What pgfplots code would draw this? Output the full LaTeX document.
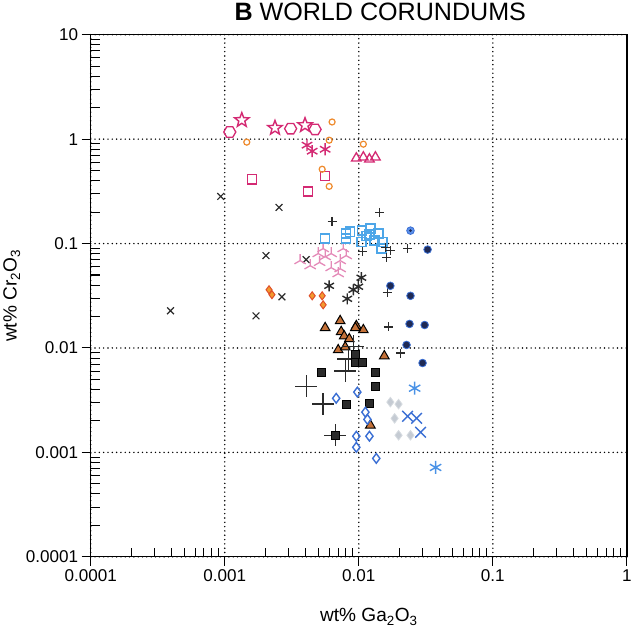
\documentclass[border=0pt]{standalone}
\usepackage{fontspec}
\setmainfont{Liberation Sans}
\usepackage{pgfplots}
\pgfplotsset{compat=1.18}

\definecolor{mag}{HTML}{D42A73}
\definecolor{orangec}{HTML}{EE8A2C}
\definecolor{pinkt}{HTML}{E48AB8}
\definecolor{lblue}{HTML}{4DA6E8}
\definecolor{dkgrey}{HTML}{2B2B2B}
\definecolor{brownt}{HTML}{C47138}
\definecolor{bluec}{HTML}{3B6FD4}
\definecolor{bluefill}{HTML}{5A90EA}
\definecolor{navy}{HTML}{1F2A55}
\definecolor{greyd}{HTML}{C5CBD3}
\definecolor{blueast}{HTML}{4A92E6}
\definecolor{odfill}{HTML}{F29A2E}
\definecolor{odedge}{HTML}{E0502A}

% open hexagon
\pgfdeclareplotmark{hexagon}{%
  \pgfpathmoveto{\pgfqpointpolar{0}{\pgfplotmarksize}}%
  \pgfpathlineto{\pgfqpointpolar{60}{\pgfplotmarksize}}%
  \pgfpathlineto{\pgfqpointpolar{120}{\pgfplotmarksize}}%
  \pgfpathlineto{\pgfqpointpolar{180}{\pgfplotmarksize}}%
  \pgfpathlineto{\pgfqpointpolar{240}{\pgfplotmarksize}}%
  \pgfpathlineto{\pgfqpointpolar{300}{\pgfplotmarksize}}%
  \pgfpathclose\pgfusepathqstroke}
% five pointed star outline
\pgfdeclareplotmark{star5}{%
  \pgfpathmoveto{\pgfpointpolar{90}{\pgfplotmarksize}}%
  \pgfpathlineto{\pgfpointpolar{126}{0.42\pgfplotmarksize}}%
  \pgfpathlineto{\pgfpointpolar{162}{\pgfplotmarksize}}%
  \pgfpathlineto{\pgfpointpolar{198}{0.42\pgfplotmarksize}}%
  \pgfpathlineto{\pgfpointpolar{234}{\pgfplotmarksize}}%
  \pgfpathlineto{\pgfpointpolar{270}{0.42\pgfplotmarksize}}%
  \pgfpathlineto{\pgfpointpolar{306}{\pgfplotmarksize}}%
  \pgfpathlineto{\pgfpointpolar{342}{0.42\pgfplotmarksize}}%
  \pgfpathlineto{\pgfpointpolar{18}{\pgfplotmarksize}}%
  \pgfpathlineto{\pgfpointpolar{54}{0.42\pgfplotmarksize}}%
  \pgfpathclose\pgfusepathqstroke}
% filled circle with dark centre
\pgfdeclareplotmark{dotcircle}{%
  \pgfpathcircle{\pgfpointorigin}{\pgfplotmarksize}\pgfusepathqfillstroke
  \pgfsetfillcolor{navy}%
  \pgfpathcircle{\pgfpointorigin}{0.38\pgfplotmarksize}\pgfusepathqfill}

\begin{document}
\begin{tikzpicture}
\begin{axis}[
  scale only axis, width=534pt, height=520pt,
  xmode=log, ymode=log, xmin=1e-4, xmax=1, ymin=1e-4, ymax=10,
  xtick={1e-4,1e-3,1e-2,1e-1,1}, xticklabels={0.0001,0.001,0.01,0.1,1},
  ytick={1e-4,1e-3,1e-2,1e-1,1,10}, yticklabels={0.0001,0.001,0.01,0.1,1,10},
  minor xtick={2e-4,3e-4,4e-4,5e-4,6e-4,7e-4,8e-4,9e-4,
    2e-3,3e-3,4e-3,5e-3,6e-3,7e-3,8e-3,9e-3,
    2e-2,3e-2,4e-2,5e-2,6e-2,7e-2,8e-2,9e-2,
    0.2,0.3,0.4,0.5,0.6,0.7,0.8,0.9},
  minor ytick={2e-4,3e-4,4e-4,5e-4,6e-4,7e-4,8e-4,9e-4,
    2e-3,3e-3,4e-3,5e-3,6e-3,7e-3,8e-3,9e-3,
    2e-2,3e-2,4e-2,5e-2,6e-2,7e-2,8e-2,9e-2,
    0.2,0.3,0.4,0.5,0.6,0.7,0.8,0.9,2,3,4,5,6,7,8,9},
  xtick pos=bottom, ytick pos=left,
  tick align=outside, major tick length=9pt, minor tick length=9pt,
  minor x tick style={yshift=9pt}, minor y tick style={xshift=9pt},
  every tick/.style={black, line width=1pt},
  grid=major,
  major grid style={black, line width=1.6pt, line cap=round, dash pattern=on 0pt off 4.3pt},
  axis line style={line width=1.3pt},
  tick label style={font=\fontsize{17}{20}\selectfont},
  xlabel={wt\% Ga\textsubscript{2}O\textsubscript{3}},
  ylabel={wt\% Cr\textsubscript{2}O\textsubscript{3}},
  xlabel style={font=\fontsize{19}{22}\selectfont, yshift=-20pt, xshift=10pt},
  every axis y label/.style={at={(axis description cs:-0.125,0.5)},rotate=90,anchor=south,
    font=\fontsize{19}{22}\selectfont},
  title={\textbf{B} WORLD CORUNDUMS},
  title style={font=\fontsize{25}{28}\selectfont, at={(axis description cs:0.54,1)}, anchor=south, yshift=4pt},
  only marks,
]
% magenta hexagons
\addplot[mag, line width=1.3pt, mark=hexagon, mark size=6] coordinates {
(1.09e-3,1.17) (3.1e-3,1.26) (4.72e-3,1.24)};
% magenta stars
\addplot[mag, line width=1.4pt, mark=star5, mark size=7.5] coordinates {
(1.34e-3,1.52) (2.37e-3,1.28) (3.97e-3,1.36)};
% magenta asterisks
\addplot[mag, line width=1.4pt, mark=asterisk, mark size=6] coordinates {
(4.11e-3,0.876) (4.49e-3,0.767) (5.61e-3,0.80)};
% magenta open triangles
\addplot[mag, line width=1.3pt, mark=triangle, mark size=5.5] coordinates {
(9.58e-3,0.656) (1.081e-2,0.671) (1.20e-2,0.642) (1.33e-2,0.671)};
% magenta open squares
\addplot[mag, line width=1.3pt, mark=square, mark size=4.5] coordinates {
(1.59e-3,0.412) (5.61e-3,0.441) (4.19e-3,0.316)};
% orange open circles
\addplot[orangec, line width=1.2pt, mark=o, mark size=3] coordinates {
(6.32e-3,1.46) (1.46e-3,0.936) (1.081e-2,0.895) (6.01e-3,0.977) (5.33e-3,0.515) (6.01e-3,0.353)};
% black crosses
\addplot[dkgrey, line width=1.2pt, mark=x, mark size=4.8] coordinates {
(9.33e-4,0.283) (2.54e-3,0.222) (2.03e-3,0.0767) (4.05e-3,0.0702)
(2.67e-3,0.0309) (1.71e-3,0.0203) (3.94e-4,0.0227)};
% orange diamonds
\addplot[draw=odedge, fill=odfill, line width=1pt, mark=diamond*, mark size=4] coordinates {
(2.14e-3,0.0361) (2.25e-3,0.0324) (4.49e-3,0.0316) (5.33e-3,0.0316) (5.42e-3,0.0259)};
% pink tripods
\addplot[pinkt, line width=1.3pt, mark=Mercedes star, mark size=6.5] coordinates {
(3.65e-3,0.0687) (4.34e-3,0.0614) (4.98e-3,0.0802) (5.61e-3,0.0750) (6.22e-3,0.0802)
(7.26e-3,0.0687) (8.05e-3,0.0767) (6.22e-3,0.0588) (7.26e-3,0.0575) (7.02e-3,0.0515)
(5.42e-3,0.0895) (7.65e-3,0.0895) (5.1e-3,0.066)};
% light blue open squares
\addplot[lblue, line width=1.3pt, mark=square, mark size=4.5] coordinates {
(5.61e-3,0.112) (8.05e-3,0.125) (8.63e-3,0.130) (8.05e-3,0.112) (1.062e-2,0.133)
(1.22e-2,0.139) (1.40e-2,0.125) (1.14e-2,0.119) (1.045e-2,0.104) (1.31e-2,0.107)
(1.50e-2,0.104) (1.48e-2,0.0895) (1.20e-2,0.122)};
% small black plus
\addplot[dkgrey, line width=1.2pt, mark=+, mark size=4.5] coordinates {
(1.43e-2,0.199) (6.32e-3,0.163) (1.062e-2,0.0838) (1.58e-2,0.0916) (1.72e-2,0.0857)
(2.31e-2,0.0895) (1.61e-2,0.0733) (1.63e-2,0.0338) (1.66e-2,0.0159) (2.05e-2,0.00895)};
% blue filled circles with dark centre
\addplot[draw=bluec, fill=bluefill, line width=0.8pt, mark=dotcircle, mark size=3.8] coordinates {
(2.43e-2,0.133) (3.26e-2,0.0876) (1.72e-2,0.0394) (2.43e-2,0.0316)
(2.39e-2,0.0170) (3.10e-2,0.0166) (2.27e-2,0.0107) (2.99e-2,0.00718)};
% black asterisks
\addplot[dkgrey, line width=1.4pt, mark=asterisk, mark size=5.5] coordinates {
(1.045e-2,0.0471) (6.01e-3,0.0394) (9.91e-3,0.0386) (9.10e-3,0.0361) (8.20e-3,0.0296)};
% brown triangles
\addplot[draw=black, fill=brownt, line width=1pt, mark=triangle*, mark size=5.5] coordinates {
(5.61e-3,0.0156) (7.26e-3,0.0182) (7.39e-3,0.0143) (7.78e-3,0.0130) (8.49e-3,0.0122)
(9.58e-3,0.0163) (1.081e-2,0.0149) (9.42e-3,0.0156) (7.02e-3,0.00957) (7.92e-3,0.0102)
(1.55e-2,0.00838) (1.22e-2,0.00182)};
% large black plus
\addplot[dkgrey, line width=1.3pt, mark=+, mark size=11] coordinates {
(4.05e-3,0.00431) (5.42e-3,0.00290) (7.92e-3,0.00601) (8.34e-3,0.00784)
(9.10e-3,0.0104) (6.67e-3,0.00146)};
% black filled squares
\addplot[draw=black, fill=dkgrey, line width=0.6pt, mark=square*, mark size=4] coordinates {
(5.24e-3,0.00588) (9.42e-3,0.00876) (9.42e-3,0.00733) (1.062e-2,0.00733) (1.33e-2,0.00588)
(1.33e-2,0.00431) (8.05e-3,0.00290) (1.20e-2,0.00296) (6.67e-3,0.00146)};
% blue open diamonds
\addplot[bluec, line width=1.4pt, mark=diamond, mark size=4.8] coordinates {
(6.78e-3,0.00330) (9.75e-3,0.00378) (1.12e-2,0.00243) (1.16e-2,0.00207)
(9.58e-3,0.00143) (9.58e-3,0.00112) (1.20e-2,0.00143) (1.35e-2,0.000876)};
% grey diamonds
\addplot[draw=greyd!70!white, fill=greyd, line width=0.8pt, mark=diamond*, mark size=4.8] coordinates {
(1.72e-2,0.00303) (1.98e-2,0.00290) (1.85e-2,0.00212) (1.98e-2,0.00146) (2.43e-2,0.00146)};
% large blue crosses
\addplot[bluec, line width=1.4pt, mark=x, mark size=7.5] coordinates {
(2.31e-2,0.00222) (2.70e-2,0.00212) (2.89e-2,0.00156)};
% blue asterisks
\addplot[blueast, line width=1.4pt, mark=asterisk, mark size=6.5] coordinates {
(2.61e-2,0.00412) (3.74e-2,0.000718)};
\end{axis}
\end{tikzpicture}
\end{document}
